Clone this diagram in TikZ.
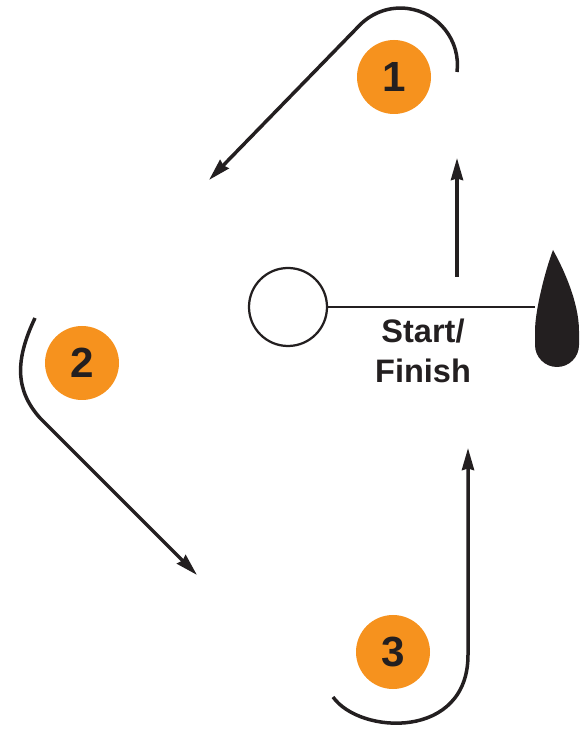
\documentclass[tikz,border=0pt]{standalone}
\usepackage{fontspec}
\setmainfont{Liberation Sans}
\usetikzlibrary{arrows.meta}
\definecolor{markorange}{RGB}{246, 146, 30}
\definecolor{inkgray}{RGB}{35, 31, 32}

\begin{document}
\begin{tikzpicture}[x=0.2mm, y=0.2mm,
    markcircle/.style={circle,fill=markorange,inner sep=0pt,minimum size=14.8mm,
        text=inkgray,font=\fontsize{24}{24}\selectfont\bfseries},
    lap/.style={draw=inkgray,line width=0.7mm,
        -{Stealth[length=4.4mm,width=2.4mm,inset=0.3mm]}}]
        \useasboundingbox (0,0) rectangle (581,731);
        \coordinate (m1) at (394,654);
        \coordinate (m2) at (82,368);
        \coordinate (m3) at (393,79);

        \coordinate (p1s) at (457,659);
        \coordinate (p1e) at (209,551);
        \coordinate (p2s) at (35,413);
        \coordinate (p2b) at (40,313);
        \coordinate (p2e) at (197,156);
        \coordinate (p3s) at (333,34);
        \coordinate (p3b) at (468,76);
        \coordinate (p3e) at (468,283);
        \coordinate (up1) at (457,454);
        \coordinate (up2) at (457,573);
        \coordinate (buoy) at (535,424);

        \node[markcircle] (mark1) at (m1) {1};
        \node[markcircle] (mark2) at (m2) {2};
        \node[markcircle] (mark3) at (m3) {3};

        \node[draw=inkgray,circle,line width=0.45mm,minimum size=15.6mm,inner sep=0pt] (pin) at (288,424) {};
        \node[align=center,text=inkgray,font=\fontsize{18.5}{22.7}\selectfont\bfseries] (startlabel) at (423,380) {Start/\\Finish};

        \draw[draw=inkgray,line width=0.45mm] (pin) -- (buoy);
        \fill[inkgray] (553,481) .. controls (545,460) and (535,420) .. (535,400)
            -- (535,386) arc[start angle=180,end angle=360,radius=22]
            -- (579,400) .. controls (579,430) and (562,465) .. (553,481) -- cycle;

        \draw[lap] (p1s) arc[start angle=-7,end angle=135,radius=57] -- (p1e);
        \draw[lap] (p2s) .. controls (15,371) and (15,341) .. (p2b) -- (p2e);
        \draw[lap] (p3s) .. controls (360,-4) and (468,-9) .. (p3b) -- (p3e);
        \draw[lap] (up1) -- (up2);
    \end{tikzpicture}
\end{document}
